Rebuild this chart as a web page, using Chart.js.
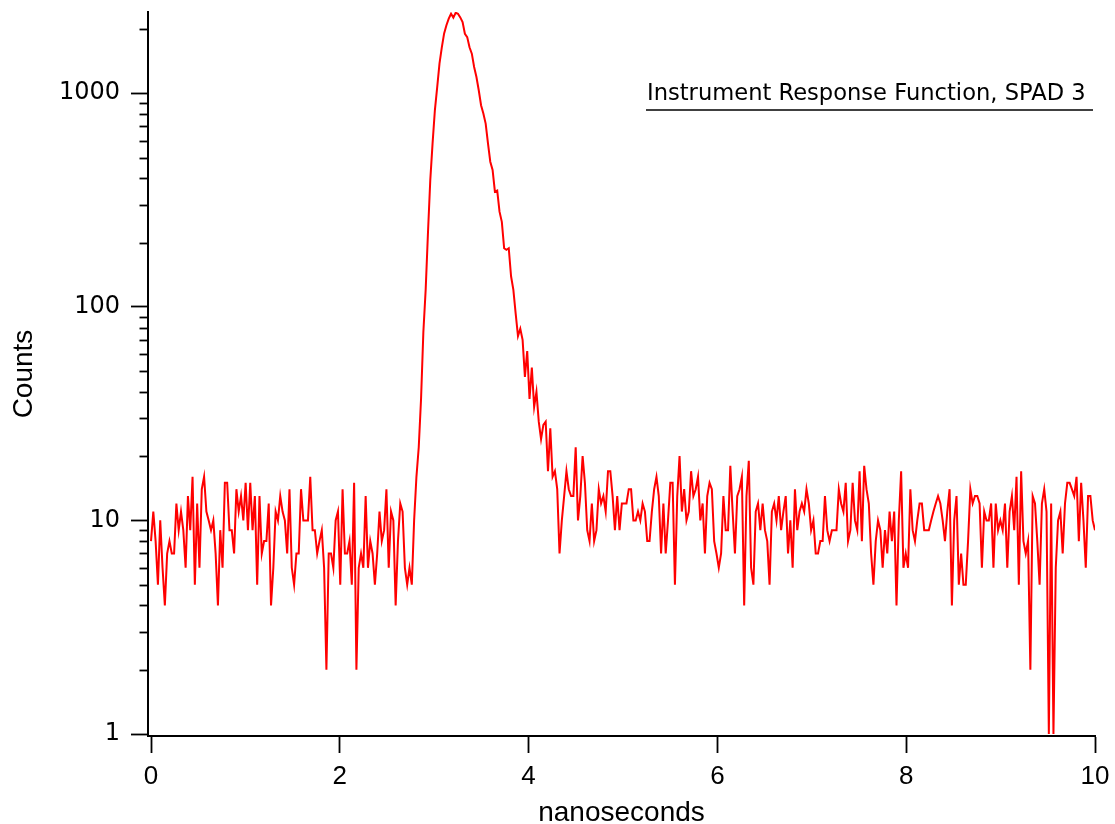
<!DOCTYPE html>
<html><head><meta charset="utf-8">
<script src="https://cdn.jsdelivr.net/npm/chart.js@4.4.1/dist/chart.umd.min.js"></script>
<style>html,body{margin:0;padding:0;background:#fff;}canvas{display:block;}</style>
</head><body>
<canvas id="c" width="1115" height="824"></canvas>
<script>
const seriesLabel = 'Instrument Response Function, SPAD 3';
const xAxisTitle = 'nanoseconds';
const yAxisTitle = 'Counts';
const xTickValues = [0, 2, 4, 6, 8, 10];
const yMajorTicks = [1, 10, 100, 1000];
const yMinorTicks = [2,3,4,5,6,7,8,9,20,30,40,50,60,70,80,90,200,300,400,500,600,700,800,900,2000];
const binWidthNs = 10 / 409;

// photon counts per time bin
const countsBefore = [8,11,8,5,10,6,4,7,8,7, 7,12,9,11,9,6,13,9,16,5, 12,6,14,16,11,10,9,10,7,4, 9,6,15,15,9,9,7,14,11,13, 10,15,9,15,9,13,5,13,7,8, 8,12,4,6,11,10,13,11,10,7, 14,
  6,5,7,7,14,10,10,10,16,9, 9,7,8,9,6,2,7,7,6,10, 11,5,14,7,7,8,5,15,2,6, 7,6,13,6,8,7,5,7,11,8, 9,14,6,11,10,4,8,12,11,6, 5,6,5,10];
const countsPulse = [16,22,37,76,120,222,392,584,834,1067, 1380,1640,1906,2080,2235,2356,2260,2380,2356,2265,
  2153,1897,1832,1640,1531,1327,1191,1032,879,804, 721,582,478,437,346,350,279,250,188,185,
  188,139,120,93,73,79,70,47,62,37, 52,34,40,29,24,28,29,17,27,16, 17];
const countsAfter = [14,7,10,13,17,14,13,13,22,10, 13,20,15,9,8,12,8,9,14,12, 13,11,17,17,13,9,13,9,12,12, 12,14,14,10,10,11,10,12,11,8, 8,11,14,16,13,7,12,7,10,15, 15,5,13,20,11,14,10,11,
  17,13,14,16,10,12,7,13,15,14, 8,7,6,7,13,9,9,18,11,7, 13,14,16,4,13,19,6,5,11,12, 9,12,9,8,5,11,12,10,13,9, 11,13,7,10,6,14,9,11,12,11, 14,12,9,10,7,7,8,8,13,9, 8,9,9,
  9,14,12,11,15,8,9,15,10,9, 17,8,18,14,12,7,5,8,10,9, 6,9,7,11,8,11,4,10,17,6, 7,6,14,9,8,10,12,12,9,9, 9,10,11,12,13,12,10,8,11,14, 4,10,13,5,7,5,5,8,14,12, 13,13,12,
  6,11,10,10,12,6,12,9,10,9, 12,6,11,13,9,16,5,17,8,7, 8,2,13,12,8,5,12,14,11,1, 12,1,6,10,11,7,12,15,15,14, 13,16,8,15,10,6,13,13,10,9];

const counts = countsBefore.concat(countsPulse, countsAfter);
const points = counts.map((c, i) => ({x: i * binWidthNs, y: c}));

const extras = {
  id: 'extras',
  afterDraw(chart) {
    const ctx = chart.ctx, ys = chart.scales.y, area = chart.chartArea;
    ctx.save();
    ctx.strokeStyle = '#000';
    ctx.lineWidth = 1.8;
    yMinorTicks.forEach(v => {
      const py = Math.round(ys.getPixelForValue(v)) + 0.5;
      ctx.beginPath(); ctx.moveTo(area.left - 8.5, py); ctx.lineTo(area.left, py); ctx.stroke();
    });
    ctx.font = '22.6px "DejaVu Sans"';
    ctx.fillStyle = '#000';
    ctx.textAlign = 'left';
    ctx.textBaseline = 'alphabetic';
    ctx.fillText(seriesLabel, 647, 100);
    ctx.lineWidth = 1.6;
    ctx.beginPath(); ctx.moveTo(646, 110); ctx.lineTo(1093, 110); ctx.stroke();
    ctx.restore();
  }
};

new Chart(document.getElementById('c'), {
  type: 'line',
  data: { datasets: [{ label: seriesLabel, data: points, borderColor: '#ff0000', borderWidth: 2, pointRadius: 0, tension: 0, fill: false }] },
  options: {
    responsive: false, animation: false, devicePixelRatio: 1,
    layout: { padding: { left: 0, right: 20, top: 12, bottom: 0 } },
    plugins: { legend: { display: false }, tooltip: { enabled: false } },
    scales: {
      x: {
        type: 'linear', min: -0.0318, max: 10,
        afterBuildTicks: s => { s.ticks = xTickValues.map(v => ({ value: v })); },
        afterFit: s => { s.height = 88; s.paddingLeft = 0; s.paddingRight = 0; },
        ticks: { color: '#000', font: { family: '"Liberation Sans"', size: 26 }, padding: 8, maxRotation: 0, autoSkip: false, callback: v => String(v) },
        grid: { drawOnChartArea: false, drawTicks: true, tickLength: 17, tickWidth: 1.8, tickColor: '#000' },
        border: { display: true, color: '#000', width: 2 },
        title: { display: true, text: xAxisTitle, color: '#000', font: { family: '"Liberation Sans"', size: 28, lineHeight: 0.8 }, padding: { top: 0, bottom: 0 } }
      },
      y: {
        type: 'logarithmic', min: 0.9787, max: 2400,
        afterBuildTicks: s => { s.ticks = yMajorTicks.map(v => ({ value: v, major: true })); },
        afterFit: s => { s.width = 148; s.paddingTop = 0; s.paddingBottom = 0; },
        ticks: { color: '#000', font: { family: '"DejaVu Sans"', size: 24 }, padding: 11, autoSkip: false, callback: v => String(v) },
        grid: { drawOnChartArea: false, drawTicks: true, tickLength: 17, tickWidth: 1.8, tickColor: '#000' },
        border: { display: true, color: '#000', width: 2 },
        title: { display: true, text: yAxisTitle, color: '#000', font: { family: '"Liberation Sans"', size: 28, lineHeight: 1.2 }, padding: { top: 7, bottom: 0 } }
      }
    }
  },
  plugins: [extras]
});
</script>
</body></html>
